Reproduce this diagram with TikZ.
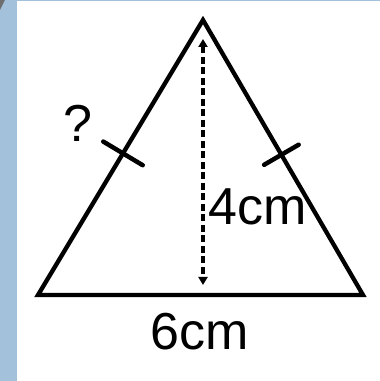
\documentclass[tikz,border=0pt]{standalone}
\usepackage{fontspec}
\setmainfont{Liberation Sans}
\usepackage{xcolor}
\usepackage{tikz}
\usetikzlibrary{arrows.meta, calc}
\definecolor{Ink}{HTML}{000000}
\definecolor{Frame}{HTML}{A3C1DA}
\definecolor{Shade}{HTML}{6E6E6E}

\begin{document}
\begin{tikzpicture}[
  x=1pt, y=1pt,
  font=\fontsize{52}{60}\selectfont,
  side/.style={draw=Ink, line width=4.3pt, line join=miter},
  tick/.style={draw=Ink, line width=4.5pt, line cap=round},
  height/.style={{Triangle[length=8pt,width=9pt]}-{Triangle[length=8pt,width=9pt]}, draw=Ink, line width=3.3pt, dash pattern=on 7pt off 3.5pt},
  label/.style={inner sep=0pt, text=Ink}
]
\useasboundingbox (0,0) rectangle (380,381);
\fill[white] (0,0) rectangle (380,381);
\fill[Frame] (0,0) rectangle (17,381);
\fill[Frame] (0,379.5) rectangle (380,381);
\fill[Shade] (0,381) -- (5,381) -- (0,371) -- cycle;

\coordinate (apex) at (203,361);
\coordinate (left) at (38,86);
\coordinate (right) at (363,86);
\draw[side] (left) -- (apex) -- (right) -- cycle;

\coordinate (lmid) at ($(apex)!0.485!(left)$);
\coordinate (rmid) at ($(apex)!0.49!(right)$);
\draw[tick] ($(lmid)!23pt!90:(apex)$) -- ($(lmid)!23pt!-90:(apex)$);
\draw[tick] ($(rmid)!20pt!90:(apex)$) -- ($(rmid)!20pt!-90:(apex)$);

\coordinate (top) at (203,342);
\coordinate (foot) at (203,96);
\draw[height] (top) -- (foot);

\node[label, anchor=base] (base) at (200,31) {6cm};
\node[label, anchor=base west] (alt) at (208,156) {4cm};
\node[label, anchor=base] (unknown) at (78,239) {?};
\end{tikzpicture}
\end{document}
